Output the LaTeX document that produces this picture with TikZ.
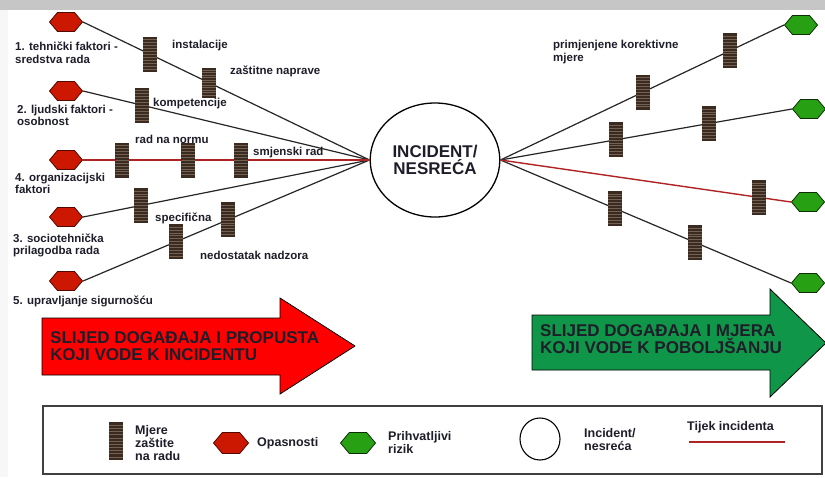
\documentclass[tikz,border=0pt]{standalone}
\usepackage{fontspec}
\setmainfont{Liberation Sans}
\usepackage{tikz}
\usetikzlibrary{positioning, shapes.geometric, shapes.symbols, calc}
\definecolor{hazred}{RGB}{204,24,0}
\definecolor{okgreen}{RGB}{40,160,20}
\definecolor{barbrown}{RGB}{58,42,32}
\definecolor{barline}{RGB}{115,98,82}
\definecolor{flowred}{RGB}{175,35,35}
\definecolor{arrowgreen}{RGB}{16,150,72}
\definecolor{ink}{RGB}{30,30,42}
\newcommand{\lblfont}{\bfseries\fontsize{11.5}{12.5}\selectfont}
\newcommand{\legfont}{\bfseries\fontsize{12.5}{13}\selectfont}

\begin{document}
\begin{tikzpicture}[x=1pt, y=-1pt]
\tikzstyle{hazard}=[draw=black!60!hazred, signal, signal to=east and west, signal pointer angle=100, fill=hazred, minimum width=33pt, minimum height=19pt, inner sep=0pt, line width=0.8pt]
\tikzstyle{safe}=[hazard, draw=black!70!okgreen, fill=okgreen]
\tikzstyle{mjera}=[rectangle, fill=barbrown, minimum width=14pt, minimum height=35pt, inner sep=0pt, path picture={
  \foreach \k in {1,...,11}
    \draw[barline, line width=0.5pt] ($(path picture bounding box.south west)!{\k/12}!(path picture bounding box.north west)$) -- ($(path picture bounding box.south east)!{\k/12}!(path picture bounding box.north east)$);}]
\tikzstyle{incident}=[draw, ellipse, line width=1.3pt, minimum width=124pt, minimum height=114pt, align=center, text=ink, font=\bfseries\fontsize{17}{17.5}\selectfont]
\tikzstyle{link}=[draw, line width=1.2pt, black!85]
\tikzstyle{flow}=[draw, line width=1.4pt, flowred]
\tikzstyle{lbl}=[anchor=west, align=left, inner sep=0pt, text=ink, font=\lblfont]
\tikzstyle{legtext}=[lbl, font=\legfont]
\tikzstyle{arrowtext}=[anchor=west, align=left, inner sep=0pt, text=ink, font=\bfseries\fontsize{17}{17.5}\selectfont]

\useasboundingbox (0,0) rectangle (825,477);
% background
\fill[gray!6] (0,0) rectangle (825,477);
\fill[white] (8,10) rectangle (825,477);
\fill[gray!45] (0,0) rectangle (825,10);

% hazards on the left
\node[hazard](haz-1) at (66,22) {};
\node[hazard](haz-2) at (66,91) {};
\node[hazard](haz-4) at (66,160) {};
\node[hazard](haz-3) at (66,217) {};
\node[hazard](haz-5) at (66,281) {};

% acceptable risk on the right
\node[safe](risk-1) at (801,25) {};
\node[safe](risk-2) at (809,109) {};
\node[safe](risk-3) at (808,202) {};
\node[safe](risk-4) at (808,283) {};

\node[incident](incident) at (435,160) {INCIDENT/\\NESREĆA};

% left side
\path[link] (haz-1.east) -- node[mjera, pos=0.234]{} node[mjera, pos=0.44, minimum height=30pt]{} (incident.west);
\path[link] (haz-2.east) -- node[mjera, pos=0.206]{} (incident.west);
\path[link] (haz-3.east) -- node[mjera, pos=0.203]{} (incident.west);
\path[link] (haz-5.east) -- node[mjera, pos=0.326]{} node[mjera, pos=0.505]{} (incident.west);
\path[flow] (haz-4.east) -- node[mjera, pos=0.137]{} node[mjera, pos=0.368]{} node[mjera, pos=0.55]{} (incident.west);

% right side
\path[link] (incident.east) -- node[mjera, pos=0.503]{} node[mjera, pos=0.809]{} (risk-1.west);
\path[link] (incident.east) -- node[mjera, pos=0.395]{} node[mjera, pos=0.716]{} (risk-2.west);
\path[link] (incident.east) -- node[mjera, pos=0.393]{} node[mjera, pos=0.671]{} (risk-4.west);
\path[flow] (incident.east) -- node[mjera, pos=0.889]{} (risk-3.west);

% texts
\node[lbl](haz-1-text) at (15,53) {1. tehnički faktori -\\sredstva rada};
\node[lbl](haz-2-text) at (17,115.5) {2. ljudski faktori -\\osobnost};
\node[lbl](haz-4-text) at (15,183.5) {4. organizacijski\\faktori};
\node[lbl](haz-3-text) at (13,245.5) {3. sociotehnička\\prilagodba rada};
\node[lbl](haz-5-text) at (13,301) {5. upravljanje sigurnošću};
\node[lbl](instal) at (172,46) {instalacije};
\node[lbl](naprave) at (230,71) {zaštitne naprave};
\node[lbl](kompet) at (153,104) {kompetencije};
\node[lbl](norma) at (135,139) {rad na normu};
\node[lbl](smjena) at (253,153) {smjenski rad};
\node[lbl](specif) at (155,218) {specifična};
\node[lbl](nadzor) at (200,255) {nedostatak nadzora};
\node[lbl](korekt) at (553,52) {primjenjene korektivne\\mjere};

% big arrows
\filldraw[draw=black, fill=red, line width=0.8pt] (42,318) -- (280,318) -- (280,298) -- (355,346) -- (280,394) -- (280,375) -- (42,375) -- cycle;
\node[arrowtext](red-text) at (50,346) {SLIJED DOGAĐAJA I PROPUSTA\\KOJI VODE K INCIDENTU};
\filldraw[draw=black, fill=arrowgreen, line width=0.8pt] (532,315) -- (770,315) -- (770,289) -- (826,343) -- (770,397) -- (770,370) -- (532,370) -- cycle;
\node[arrowtext](green-text) at (540,339) {SLIJED DOGAĐAJA I MJERA\\KOJI VODE K POBOLJŠANJU};

% legend
\draw[line width=1.2pt, black!75] (43,406) rectangle (822,474);
\node[mjera, minimum height=38pt](leg-bar) at (116,441) {};
\node[legtext](leg-bar-text) at (135,443) {Mjere\\zaštite\\na radu};
\node[hazard, minimum width=35pt, minimum height=21pt](leg-haz) at (231,443) {};
\node[legtext](leg-haz-text) at (257,443) {Opasnosti};
\node[safe, minimum width=35pt, minimum height=21pt](leg-risk) at (358,443) {};
\node[legtext](leg-risk-text) at (388,442) {Prihvatljivi\\rizik};
\node[draw, ellipse, line width=1.1pt, minimum width=40pt, minimum height=42pt](leg-inc) at (540,439) {};
\node[legtext](leg-inc-text) at (584,440) {Incident/\\nesreća};
\node[legtext](leg-flow-text) at (687,427) {Tijek incidenta};
\coordinate (flow-a) at (689,442);
\coordinate (flow-b) at (785,442);
\path[flow, line width=1.1pt] (flow-a) -- (flow-b);

\end{tikzpicture}
\end{document}
